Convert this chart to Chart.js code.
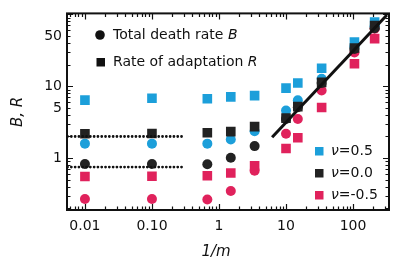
<!DOCTYPE html>
<html>
<head>
<meta charset="utf-8">
<script src="https://cdn.jsdelivr.net/npm/chart.js@4.4.1/dist/chart.umd.min.js"></script>
<style>
  html, body { margin: 0; padding: 0; background: #fff; }
  #wrap { width: 408px; height: 267px; }
</style>
</head>
<body>
<div id="wrap"><canvas id="chart" width="408" height="267"></canvas></div>
<script>
// 1/m values shared by every series
const invM = [0.01, 0.1, 0.67, 1.5, 3.4, 10, 15, 34, 105, 210];

// total death rate B (circles)
const deathNu05 = [1.59, 1.59, 1.59, 1.82, 2.37, 4.6, 6.4, 12.7, 35, 68];
const deathNu00 = [0.83, 0.83, 0.82, 1.01, 1.47, 3.5, 5.1, 11.1, 33, 64];
const deathNuM05 = [0.27, 0.27, 0.266, 0.35, 0.67, 2.18, 3.5, 8.7, 29.5, 63];

// rate of adaptation R (squares)
const adaptNu05 = [6.4, 6.8, 6.7, 7.1, 7.4, 9.4, 11.1, 17.8, 41, 78];
const adaptNu00 = [2.18, 2.2, 2.25, 2.34, 2.74, 3.6, 5.2, 11.3, 34, 70];
const adaptNuM05 = [0.555, 0.56, 0.57, 0.62, 0.78, 1.36, 1.92, 5.05, 20.5, 46];

// dotted plateaus at small 1/m, solid line at large 1/m
const plateauX = [0.0055, 0.28];
const plateauR = [2.0, 2.0];
const plateauB = [0.75, 0.75];
const fitX = [6.2, 320];
const fitY = [1.95, 98];

const xTicks = [0.01, 0.1, 1, 10, 100];
const xTickLabels = ['0.01', '0.10', '1', '10', '100'];
const yTicks = [1, 5, 10, 50];
const yTickLabels = ['1', '5', '10', '50'];

const BLUE = '#1c9fda';
const BLACK = '#222222';
const PINK = '#e0225c';
const FONT = 'DejaVu Sans';

const pts = (xs, ys) => xs.map((x, i) => ({ x: x, y: ys[i] }));

const markers = (ys, color, style) => ({
  data: pts(invM, ys),
  backgroundColor: color,
  borderColor: color,
  borderWidth: 0,
  pointStyle: style,
  pointRadius: style === 'rect' ? 6.8 : 5,
  showLine: false
});

const line = (xs, ys, dash, width, cap) => ({
  data: pts(xs, ys),
  showLine: true,
  pointRadius: 0,
  borderColor: '#111',
  borderWidth: width,
  borderDash: dash,
  borderCapStyle: cap
});

// draws a line of text where some pieces are italic
function richText(ctx, parts, x, y, size) {
  let cx = x;
  parts.forEach(p => {
    ctx.font = (p.it ? 'italic ' : '') + size + 'px "' + FONT + '"';
    ctx.fillText(p.t, cx, y);
    cx += ctx.measureText(p.t).width;
  });
}

const frameTicks = {
  id: 'frameTicks',
  afterDraw(chart) {
    const { ctx, chartArea: a, scales } = chart;
    const xs = scales.x, ys = scales.y;
    ctx.save();
    ctx.strokeStyle = '#111';
    ctx.lineWidth = 2;
    ctx.strokeRect(a.left, a.top, a.right - a.left, a.bottom - a.top);
    ctx.lineWidth = 1.2;

    const logVals = (min, max) => {
      const out = [];
      for (let d = Math.floor(Math.log10(min)); d <= Math.ceil(Math.log10(max)); d++) {
        for (let k = 1; k <= 9; k++) {
          const v = k * Math.pow(10, d);
          if (v > min && v < max) out.push({ v: v, major: k === 1 });
        }
      }
      return out;
    };

    ctx.beginPath();
    logVals(xs.min, xs.max).forEach(t => {
      const px = Math.round(xs.getPixelForValue(t.v)) + 0.5;
      const len = t.major ? 6 : 3.5;
      ctx.moveTo(px, a.bottom); ctx.lineTo(px, a.bottom - len);
      ctx.moveTo(px, a.top); ctx.lineTo(px, a.top + len);
    });
    logVals(ys.min, ys.max).forEach(t => {
      const py = Math.round(ys.getPixelForValue(t.v)) + 0.5;
      const len = t.major ? 6 : 3.5;
      ctx.moveTo(a.left, py); ctx.lineTo(a.left + len, py);
      ctx.moveTo(a.right, py); ctx.lineTo(a.right - len, py);
    });
    ctx.stroke();

    // legends
    ctx.fillStyle = '#111';
    ctx.textBaseline = 'middle';
    ctx.beginPath();
    ctx.arc(100, 35, 4.8, 0, Math.PI * 2);
    ctx.fill();
    ctx.fillRect(96.5, 58, 8.5, 8.5);
    richText(ctx, [{ t: 'Total death rate ' }, { t: 'B', it: true }], 113, 35, 14);
    richText(ctx, [{ t: 'Rate of adaptation ' }, { t: 'R', it: true }], 113, 62, 14);

    const nuRows = [['0.5', BLUE, 151], ['0.0', BLACK, 173], ['-0.5', PINK, 195]];
    nuRows.forEach(r => {
      ctx.fillStyle = r[1];
      ctx.fillRect(315, r[2] - 4, 8.5, 8.5);
      ctx.fillStyle = '#111';
      richText(ctx, [{ t: 'ν', it: true }, { t: '=' + r[0] }], 331, r[2], 14);
    });

    // axis titles
    ctx.textAlign = 'center';
    ctx.font = 'italic 15px "' + FONT + '"';
    ctx.fillText('1/m', 216, 252);
    ctx.translate(18, 112);
    ctx.rotate(-Math.PI / 2);
    ctx.fillText('B, R', 0, 0);
    ctx.restore();
  }
};

new Chart(document.getElementById('chart'), {
  type: 'scatter',
  data: {
    datasets: [
      line(plateauX, plateauR, [0, 3.8], 2.8, 'round'),
      line(plateauX, plateauB, [0, 3.8], 2.8, 'round'),
      line(fitX, fitY, [], 3, 'butt'),
      markers(adaptNu00, BLACK, 'rect'),
      markers(deathNu00, BLACK, 'circle'),
      markers(adaptNu05, BLUE, 'rect'),
      markers(deathNu05, BLUE, 'circle'),
      markers(adaptNuM05, PINK, 'rect'),
      markers(deathNuM05, PINK, 'circle')
    ]
  },
  options: {
    responsive: false,
    animation: false,
    devicePixelRatio: 1,
    layout: { padding: { top: 11, right: 19, left: 0, bottom: 0 } },
    plugins: { legend: { display: false }, tooltip: { enabled: false } },
    scales: {
      x: {
        type: 'logarithmic',
        min: 0.0054,
        max: 344,
        grid: { display: false, drawTicks: false },
        border: { display: false },
        afterBuildTicks: s => { s.ticks = xTicks.map(v => ({ value: v })); },
        afterFit: s => { s.height = 57; },
        ticks: {
          autoSkip: false,
          maxRotation: 0,
          padding: 8,
          color: '#111',
          font: { family: FONT, size: 14 },
          callback: (v, i) => xTickLabels[i]
        }
      },
      y: {
        type: 'logarithmic',
        min: 0.19,
        max: 103,
        grid: { display: false, drawTicks: false },
        border: { display: false },
        afterBuildTicks: s => { s.ticks = yTicks.map(v => ({ value: v })); },
        afterFit: s => { s.width = 67; },
        ticks: {
          autoSkip: false,
          padding: 5,
          color: '#111',
          font: { family: FONT, size: 14 },
          callback: (v, i) => yTickLabels[i]
        }
      }
    }
  },
  plugins: [frameTicks]
});
</script>
</body>
</html>
